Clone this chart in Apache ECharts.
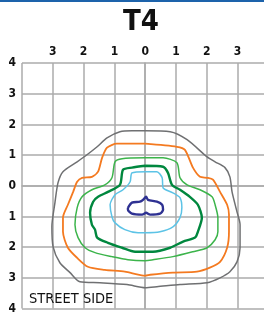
<!DOCTYPE html>
<html><head><meta charset="utf-8">
<script src="https://cdn.jsdelivr.net/npm/echarts@6/dist/echarts.min.js"></script>
<style>html,body{margin:0;padding:0;background:#fff}#c{width:264px;height:312px}</style>
</head><body><div id="c"></div>
<script>
const chartTitle = 'T4';
const footLabel = 'STREET SIDE';
const xTicks = [-4, -3, -2, -1, 0, 1, 2, 3, 4];
const xTickLabels = ['', '3', '2', '1', '0', '1', '2', '3', ''];
const yTicks = [4, 3, 2, 1, 0, -1, -2, -3, -4];
const yTickLabels = ['4', '3', '2', '1', '0', '1', '2', '3', '4'];

const contourNames = ['gray', 'orange', 'lightGreen', 'darkGreen', 'lightBlue', 'navy'];
const grayContour = [[0,1.79],[0.81,1.76],[1.36,1.50],[2.01,0.94],[2.27,0.78],[2.59,0.59],[2.75,0.29],[2.82,-0.20],[2.98,-0.85],[3.08,-1.27],[3.08,-2.02],[2.98,-2.48],[2.75,-2.80],[2.43,-3.00],[2.01,-3.16],[1.13,-3.22],[0.38,-3.29],[0,-3.32],[-0.59,-3.22],[-1.47,-3.16],[-2.12,-3.13],[-2.44,-2.83],[-2.77,-2.51],[-2.99,-1.99],[-3.03,-1.34],[-2.93,-0.55],[-2.83,0.10],[-2.67,0.46],[-2.21,0.78],[-1.89,1.01],[-1.56,1.27],[-1.24,1.56],[-0.82,1.76],[-0.43,1.79]];
const orangeContour = [[0,1.37],[1.03,1.27],[1.29,1.17],[1.55,0.59],[1.78,0.29],[2.01,0.26],[2.20,0.20],[2.43,-0.20],[2.66,-0.62],[2.72,-0.94],[2.72,-1.50],[2.66,-2.02],[2.43,-2.48],[2.10,-2.67],[1.68,-2.80],[0.90,-2.83],[0.16,-2.90],[0,-2.93],[-0.66,-2.80],[-1.31,-2.74],[-1.86,-2.64],[-2.21,-2.35],[-2.51,-2.02],[-2.67,-1.50],[-2.67,-1.04],[-2.51,-0.62],[-2.34,-0.20],[-2.21,0.13],[-2.05,0.26],[-1.73,0.29],[-1.53,0.46],[-1.40,0.91],[-1.24,1.24],[-0.92,1.37]];
const lightGreenContour = [[0,0.91],[0.58,0.91],[1.03,0.75],[1.13,0.26],[1.36,0.03],[1.78,-0.13],[2.17,-0.36],[2.27,-0.62],[2.36,-1.04],[2.36,-1.50],[2.27,-1.76],[2.01,-2.02],[1.55,-2.15],[0.90,-2.31],[0.25,-2.41],[0,-2.44],[-0.56,-2.41],[-1.08,-2.31],[-1.63,-2.18],[-1.95,-2.02],[-2.18,-1.69],[-2.28,-1.27],[-2.21,-0.72],[-2.05,-0.36],[-1.73,-0.13],[-1.31,0.03],[-1.08,0.26],[-0.98,0.78],[-0.75,0.88]];
const darkGreenContour = [[0,0.65],[0.58,0.62],[0.74,0.42],[0.87,0.03],[1.13,-0.13],[1.45,-0.36],[1.71,-0.62],[1.84,-1.04],[1.71,-1.50],[1.62,-1.69],[1.23,-1.82],[0.81,-2.02],[0.25,-2.15],[0,-2.15],[-0.33,-2.15],[-0.75,-2.02],[-1.21,-1.86],[-1.56,-1.69],[-1.63,-1.43],[-1.73,-1.27],[-1.79,-0.88],[-1.69,-0.52],[-1.53,-0.36],[-1.21,-0.20],[-0.82,0.03],[-0.72,0.52],[-0.43,0.59]];
const lightBlueContour = [[0,0.46],[0.38,0.46],[0.55,0.26],[0.58,-0.07],[0.90,-0.23],[1.13,-0.39],[1.19,-0.72],[1.13,-1.04],[0.90,-1.34],[0.48,-1.50],[0,-1.53],[-0.23,-1.53],[-0.66,-1.43],[-0.98,-1.21],[-1.08,-1.01],[-1.14,-0.62],[-0.98,-0.29],[-0.72,-0.13],[-0.49,0.13],[-0.43,0.42]];
const navyContour = [[-0.56,-0.72],[-0.43,-0.55],[-0.17,-0.52],[-0.07,-0.46],[0.03,-0.36],[0.09,-0.46],[0.38,-0.52],[0.55,-0.62],[0.58,-0.78],[0.48,-0.91],[0.16,-0.94],[0.03,-0.88],[-0.10,-0.94],[-0.43,-0.91],[-0.56,-0.78]];

const contours = [grayContour, orangeContour, lightGreenContour, darkGreenContour, lightBlueContour, navyContour];
const colors = ['#6f7072', '#f47a20', '#3cb44b', '#00873e', '#5cc3e6', '#2e3192'];
const widths = [1.5, 1.8, 1.5, 2.4, 1.5, 2.4];

const FONT = "'Liberation Sans Narrow', 'DejaVu Sans Condensed', 'Roboto', sans-serif";

const chart = echarts.init(document.getElementById('c'), null, {renderer: 'canvas'});
const gridStyle = {color: '#ababab', width: 1.5};
chart.setOption({
  animation: false,
  backgroundColor: '#fff',
  grid: {left: 22, top: 63, width: 246.4, height: 245.5, containLabel: false, outerBoundsMode: 'none'},
  xAxis: {
    type: 'value', min: -4, max: 4, interval: 1, position: 'top',
    axisLine: {show: true, lineStyle: gridStyle},
    axisTick: {show: false},
    splitLine: {show: true, lineStyle: gridStyle},
    axisLabel: {
      show: true, margin: 5, fontFamily: FONT, fontWeight: 'bold', fontSize: 12, color: '#111',
      showMinLabel: true, showMaxLabel: true,
      formatter: v => xTickLabels[xTicks.indexOf(Math.round(v))] || ''
    }
  },
  yAxis: {
    type: 'value', min: -4, max: 4, interval: 1,
    axisLine: {show: true, lineStyle: gridStyle},
    axisTick: {show: false},
    splitLine: {show: true, lineStyle: gridStyle},
    axisLabel: {
      show: true, margin: 6, fontFamily: FONT, fontWeight: 'bold', fontSize: 12, color: '#111',
      showMinLabel: true, showMaxLabel: true,
      formatter: v => yTickLabels[yTicks.indexOf(Math.round(v))] || ''
    }
  },
  graphic: [
    {type: 'rect', shape: {x: 0, y: 0, width: 264, height: 2}, style: {fill: '#1d63ab'}, z: 10},
    {type: 'text', x: 141, y: 22.5, style: {text: chartTitle, fontFamily: FONT, fontWeight: 'bold', fontSize: 29, fill: '#111', align: 'center', verticalAlign: 'middle'}, z: 10},
    {type: 'text', x: 29, y: 299, style: {text: footLabel, fontFamily: FONT, fontSize: 14.5, fill: '#111', align: 'left', verticalAlign: 'middle'}, z: 10}
  ],
  series: contours.map((c, i) => ({
    name: contourNames[i],
    type: 'line',
    data: c.concat([c[0]]),
    showSymbol: false,
    symbol: 'none',
    smooth: 0.25,
    lineStyle: {color: colors[i], width: widths[i]},
    z: 3 + i,
    silent: true
  }))
});
</script></body></html>
